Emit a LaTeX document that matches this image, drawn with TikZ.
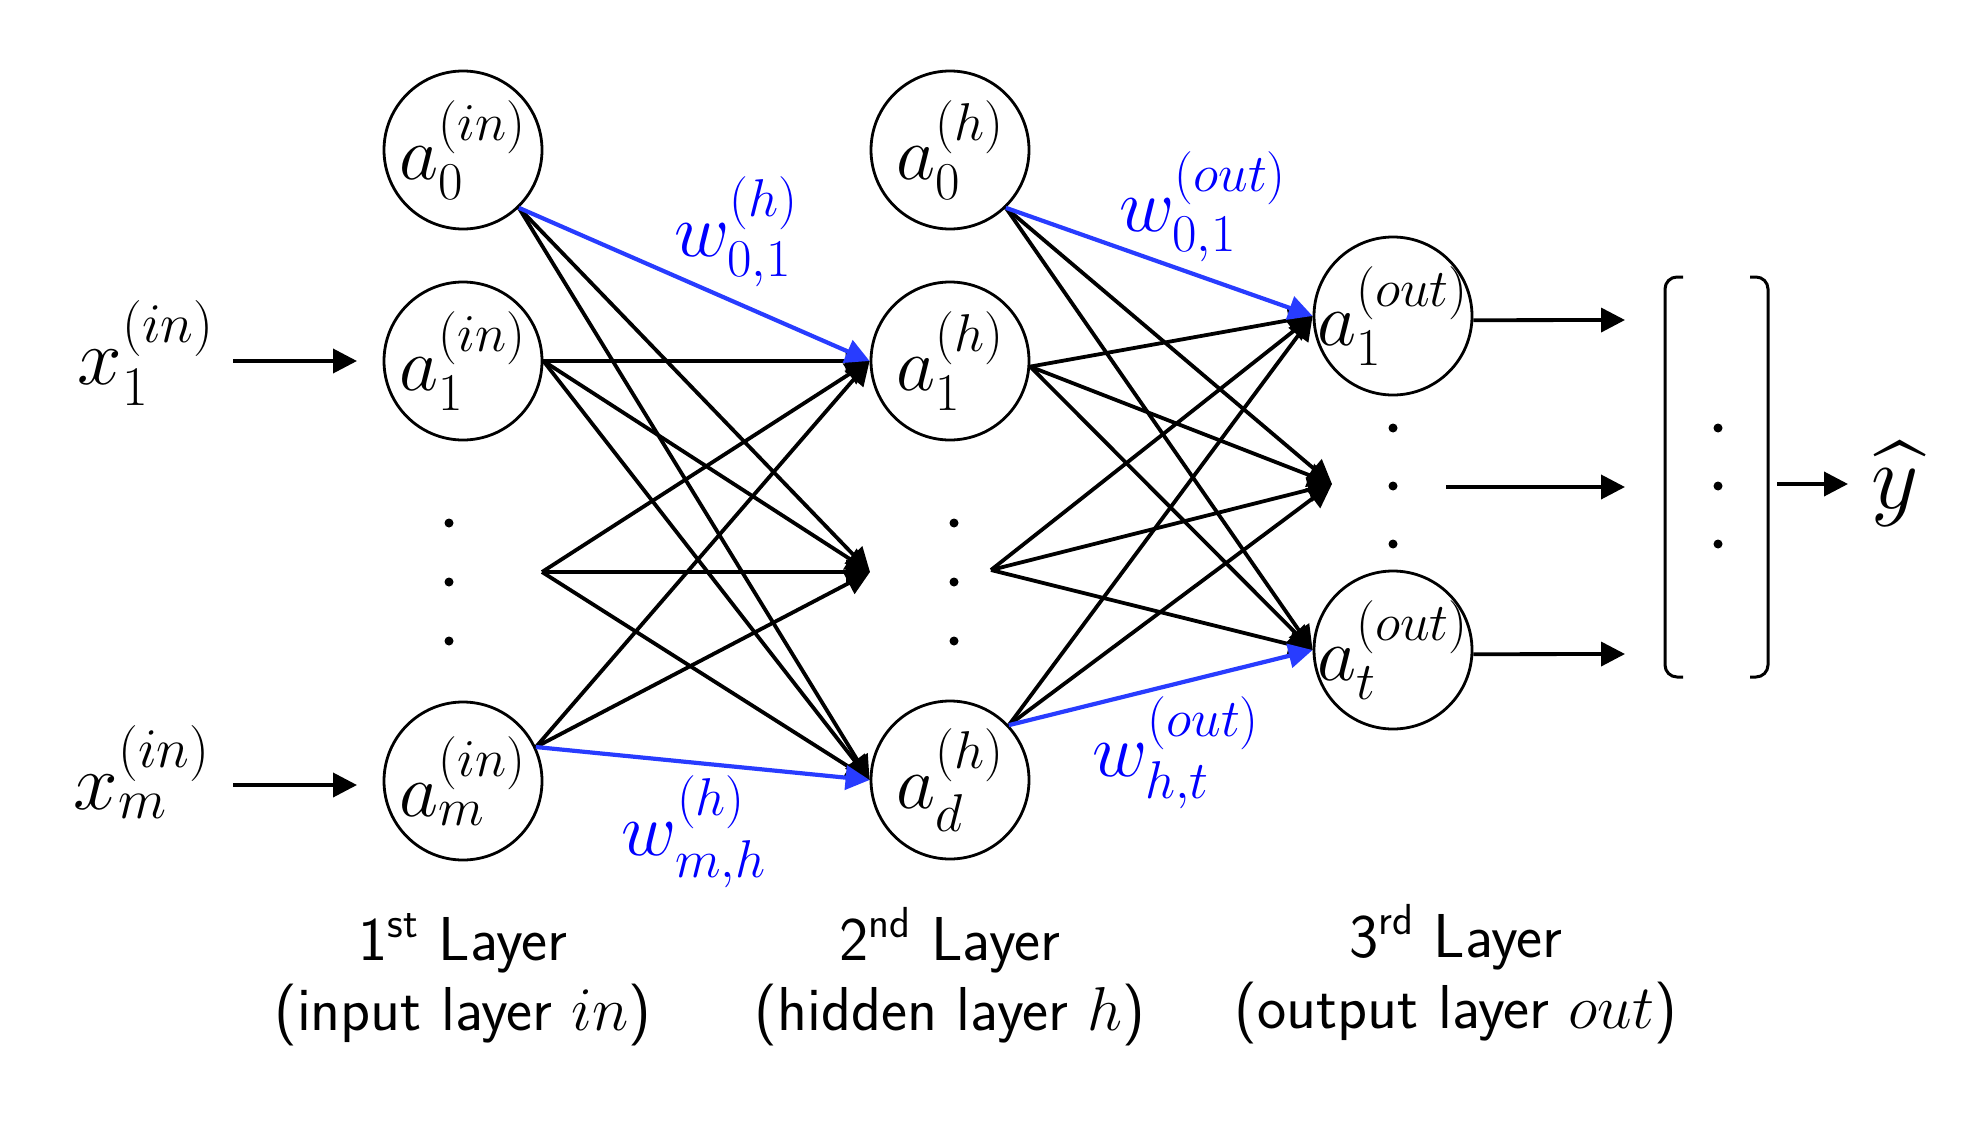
\RequirePackage{fix-cm}
\documentclass[tikz,border=0pt]{standalone}
\DeclareFontShape{OMX}{cmex}{m}{n}{<->cmex10}{}
\usetikzlibrary{arrows.meta}
\definecolor{wblue}{RGB}{0,0,255}
\definecolor{lblue}{RGB}{40,60,255}
\newcommand\mathbig{\fontsize{38}{42}\selectfont}
\newcommand\mathhuge{\fontsize{40}{44}\selectfont}
\newcommand\capfont{\fontsize{31}{36}\selectfont\sffamily}
\newcommand\nlabel[1]{\makebox[0pt]{$#1$}}
\begin{document}
\begin{tikzpicture}[x=0.5pt,y=-0.5pt,
  neuron/.style={draw,circle,line width=1.4pt,minimum size=79pt,inner sep=0pt,font=\mathbig},
  conn/.style={line width=1.9pt,-{Triangle[length=12pt,width=12pt]}},
  wconn/.style={conn,draw=lblue,line width=2.1pt},
  wlabel/.style={text=wblue,font=\mathbig,inner sep=0pt},
  xlabel/.style={font=\mathhuge,inner sep=0pt},
  captext/.style={font=\capfont,anchor=base,inner sep=0pt},
  vdot/.style={fill,circle,inner sep=0pt,minimum size=4.5pt},
  brk/.style={line width=1.5pt,rounded corners=6pt}]
\useasboundingbox (0,0) rectangle (1975,1129);

% neurons
\node[neuron] (i0) at (463,150) {\nlabel{a_0^{(in)}}};
\node[neuron] (i1) at (463,361) {\nlabel{a_1^{(in)}}};
\node[neuron] (im) at (463,781) {\nlabel{a_m^{(in)}}};
\node[neuron] (h0) at (950,150) {\nlabel{a_0^{(h)}}};
\node[neuron] (h1) at (950,361) {\nlabel{a_1^{(h)}}};
\node[neuron] (hd) at (950,780) {\nlabel{a_d^{(h)}}};
\node[neuron] (o1) at (1393,316) {\nlabel{a_1^{(out)}}};
\node[neuron] (ot) at (1393,650) {\nlabel{a_t^{(out)}}};

% vertical dots
\foreach \n/\x/\y in {a/449/523,b/449/582,c/449/641,
                      d/954/523,e/954/582,f/954/641,
                      g/1393/428,h/1393/486,k/1393/544,
                      l/1718/428,m/1718/486,n/1718/544}
  \node[vdot] (dot\n) at (\x,\y) {};

% inputs
\node[xlabel] (x1) at (146,353) {$x_1^{(in)}$};
\node[xlabel] (xm) at (142,772) {$x_m^{(in)}$};
\coordinate (x1s) at (233,361);
\coordinate (x1e) at (357,361);
\coordinate (xms) at (233,785);
\coordinate (xme) at (357,785);
\draw[conn] (x1s) -- (x1e);
\draw[conn] (xms) -- (xme);

% hub points for the "dots" rows
\coordinate (m1s) at (542,572);
\coordinate (m2t) at (870,572);
\coordinate (m2s) at (991,570);
\coordinate (m3t) at (1332,484);

% layer 1 -> 2
\draw[conn] (i0.-46) -- (m2t);
\draw[conn] (i0.-46) -- (hd.west);
\draw[conn] (i1.east) -- (h1.west);
\draw[conn] (i1.east) -- (m2t);
\draw[conn] (i1.east) -- (hd.west);
\draw[conn] (m1s) -- (h1.west);
\draw[conn] (m1s) -- (m2t);
\draw[conn] (m1s) -- (hd.west);
\draw[conn] (im.25) -- (h1.west);
\draw[conn] (im.25) -- (m2t);
\draw[wconn] (i0.-46) -- (h1.west);
\draw[wconn] (im.25) -- (hd.west);

% layer 2 -> 3
\draw[conn] (h0.-46) -- (m3t);
\draw[conn] (h0.-46) -- (ot.west);
\draw[conn] (h1.-4) -- (o1.west);
\draw[conn] (h1.-4) -- (m3t);
\draw[conn] (h1.-4) -- (ot.west);
\draw[conn] (m2s) -- (o1.west);
\draw[conn] (m2s) -- (m3t);
\draw[conn] (m2s) -- (ot.west);
\draw[conn] (hd.43) -- (o1.west);
\draw[conn] (hd.43) -- (m3t);
\draw[wconn] (h0.-46) -- (o1.west);
\draw[wconn] (hd.43) -- (ot.west);

% weight labels
\node[wlabel] (w1) at (736,232) {$w_{0,1}^{(h)}$};
\node[wlabel] (w2) at (1203,207) {$w_{0,1}^{(out)}$};
\node[wlabel] (w3) at (694,832) {$w_{m,h}^{(h)}$};
\node[wlabel] (w4) at (1176,753) {$w_{h,t}^{(out)}$};

% output vector
\coordinate (o1e) at (1625,320);
\coordinate (oms) at (1446,487);
\coordinate (ome) at (1625,487);
\coordinate (ote) at (1625,654);
\draw[conn] (o1.-3) -- (o1e);
\draw[conn] (oms) -- (ome);
\draw[conn] (ot.-3) -- (ote);
\draw[brk] (1683,277) -- (1665,277) -- (1665,677) -- (1683,677);
\draw[brk] (1750,277) -- (1768,277) -- (1768,677) -- (1750,677);
\coordinate (bs) at (1777,484);
\coordinate (be) at (1848,484);
\draw[conn] (bs) -- (be);
\node[font=\fontsize{46}{50}\selectfont,inner sep=0pt] (yhat) at (1895,484) {$\widehat{y}$};

% captions
\node[captext] (c1a) at (463,960) {1\textsuperscript{st} Layer};
\node[captext] (c1b) at (463,1030) {(input layer $in$)};
\node[captext] (c2a) at (950,960) {2\textsuperscript{nd} Layer};
\node[captext] (c2b) at (950,1030) {(hidden layer $h$)};
\node[captext] (c3a) at (1456,957) {3\textsuperscript{rd} Layer};
\node[captext] (c3b) at (1456,1028) {(output layer $out$)};
\end{tikzpicture}
\end{document}
